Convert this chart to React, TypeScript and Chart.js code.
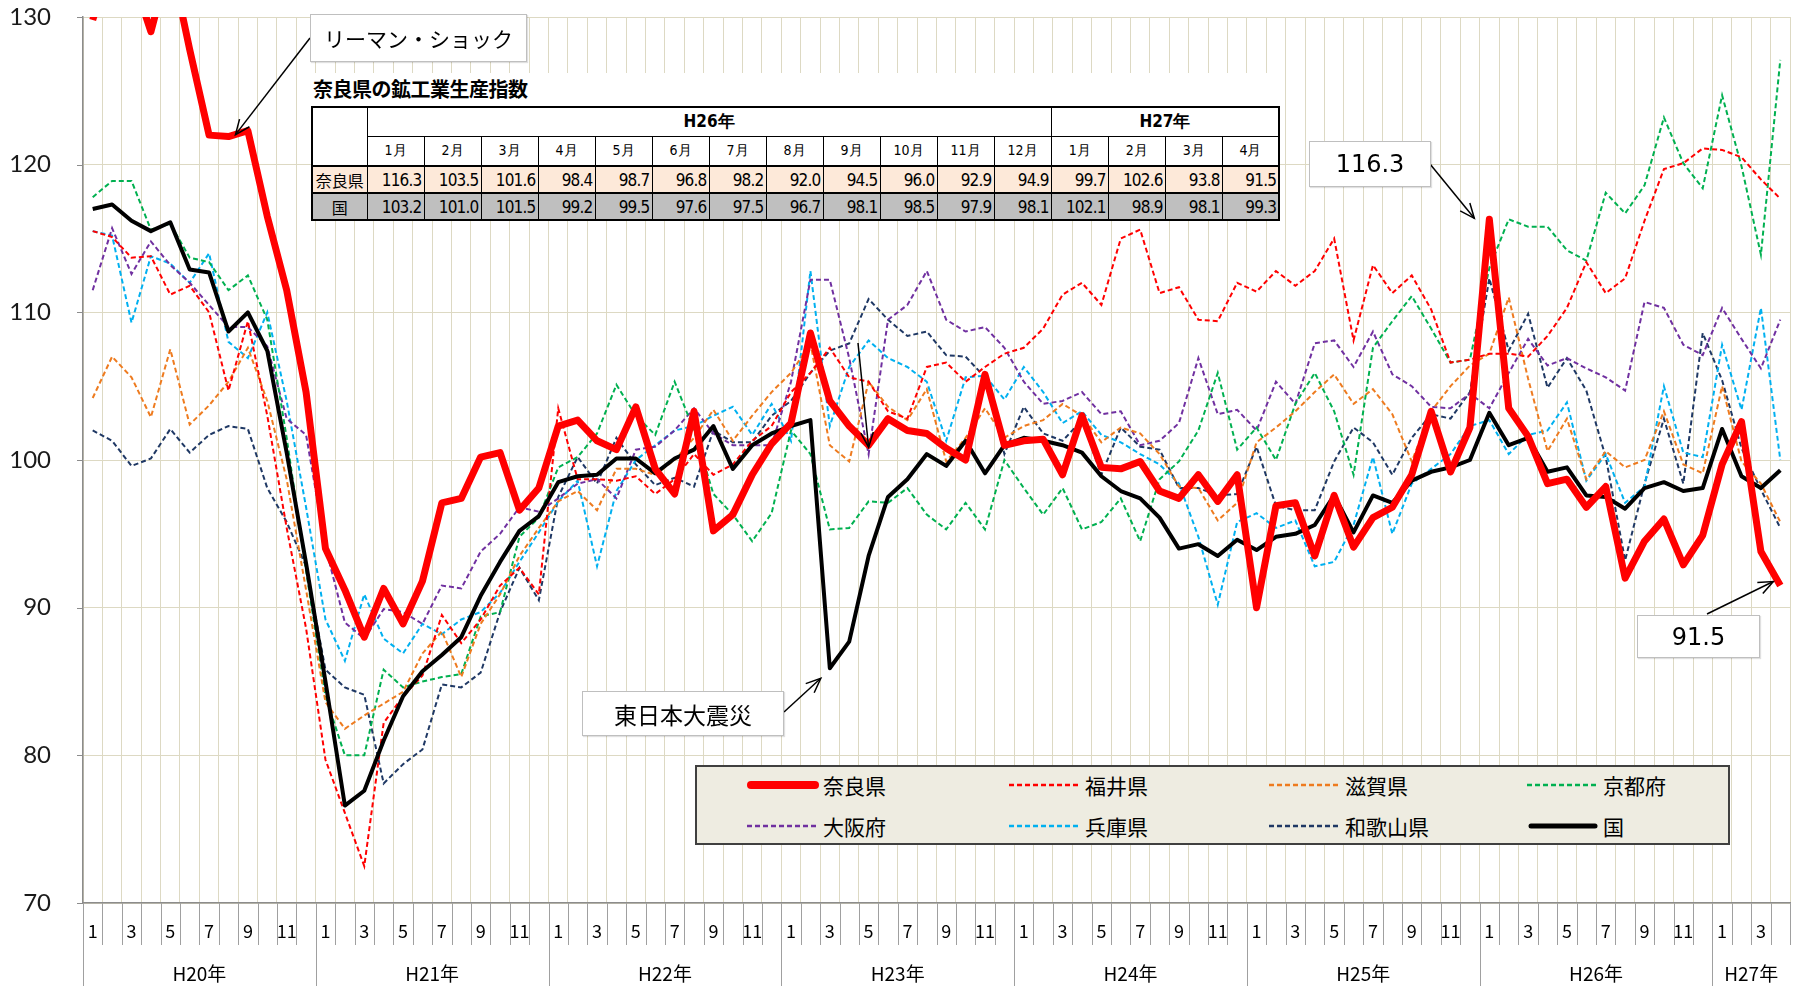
import React, { useEffect, useRef } from 'react';
import { Chart, registerables } from 'chart.js';

Chart.register(...registerables);

// ---------- categories ----------
const yearLabels = ['H20年', 'H21年', 'H22年', 'H23年', 'H24年', 'H25年', 'H26年', 'H27年'];
const monthsInYear = [12, 12, 12, 12, 12, 12, 12, 4];

// ---------- series (2010 = 100) ----------
const nara = [
  129.8, 134.0, 133.0, 129.0, 134.0, 127.8, 122.0, 121.9, 122.3, 116.5, 111.5, 104.6,
  94.0, 91.2, 88.0, 91.3, 88.9, 91.8, 97.1, 97.4, 100.2, 100.5, 96.6, 98.1,
  102.3, 102.7, 101.3, 100.7, 103.6, 99.4, 97.7, 103.3, 95.2, 96.3, 99.0, 101.1,
  102.5, 108.6, 104.0, 102.3, 101.0, 102.8, 102.0, 101.8, 100.8, 100.0, 105.8, 101.0,
  101.3, 101.4, 99.0, 103.0, 99.5, 99.4, 99.9, 97.9, 97.4, 99.0, 97.2, 99.0,
  90.0, 96.9, 97.1, 93.5, 97.6, 94.1, 96.1, 96.8, 99.0, 103.3, 99.2, 102.2,
  116.3, 103.5, 101.6, 98.4, 98.7, 96.8, 98.2, 92.0, 94.5, 96.0, 92.9, 94.9,
  99.7, 102.6, 93.8, 91.5,
];
const fukui = [
  115.5, 115.1, 113.7, 113.8, 111.2, 111.8, 110.0, 104.7, 109.4, 103.0, 95.4, 88.6,
  79.7, 76.1, 72.5, 82.2, 84.0, 85.4, 89.5, 87.6, 89.2, 91.5, 92.7, 90.9,
  103.5, 98.7, 98.7, 98.6, 98.9, 97.7, 98.7, 100.4, 99.0, 99.7, 101.3, 102.3,
  104.6, 105.9, 107.6, 105.6, 105.3, 103.3, 102.8, 106.3, 106.6, 105.3, 106.3, 107.2,
  107.6, 108.9, 111.2, 112.0, 110.5, 115.0, 115.6, 111.3, 111.7, 109.5, 109.4, 112.0,
  111.4, 112.8, 111.8, 112.8, 115.0, 108.1, 113.2, 111.3, 112.5, 110.2, 106.6, 106.8,
  107.2, 107.2, 107.0, 108.4, 110.3, 113.4, 111.3, 112.3, 116.2, 119.7, 120.1, 121.1,
  121.0, 120.5, 119.0, 117.7,
];
const shiga = [
  104.2, 107.0, 105.6, 102.9, 107.5, 102.4, 103.7, 105.3, 107.6, 104.0, 98.7, 91.2,
  83.6, 81.8, 82.7, 83.5, 84.3, 86.9, 88.4, 85.3, 88.9, 90.9, 93.5, 95.4,
  97.2, 97.9, 96.6, 99.4, 99.4, 99.0, 100.0, 101.5, 103.4, 101.3, 103.0, 104.6,
  105.9, 107.9, 101.0, 99.9, 105.3, 103.6, 102.7, 104.8, 99.9, 101.5, 103.5, 101.5,
  102.3, 102.7, 103.8, 103.0, 101.2, 102.2, 101.8, 100.4, 98.2, 98.1, 95.9, 97.1,
  101.2, 102.2, 103.3, 104.6, 105.8, 103.8, 104.8, 103.1, 99.9, 103.3, 105.0, 106.4,
  107.2, 111.0, 105.5, 100.6, 102.8, 98.7, 100.6, 99.5, 100.0, 103.3, 99.7, 99.1,
  105.0, 99.9, 98.4, 95.8,
];
const kyoto = [
  117.8, 118.9, 118.9, 115.6, 116.0, 113.7, 113.4, 111.5, 112.5, 109.5, 101.5, 92.5,
  84.0, 80.0, 80.0, 85.8, 84.6, 85.0, 85.3, 85.5, 89.4, 89.7, 94.8, 96.1,
  99.5, 100.2, 101.8, 105.1, 103.0, 101.7, 105.3, 102.0, 97.7, 96.3, 94.5, 96.4,
  102.0, 100.4, 95.3, 95.4, 97.2, 97.1, 98.1, 96.3, 95.3, 97.1, 95.3, 100.0,
  98.1, 96.3, 98.1, 95.3, 95.8, 97.4, 94.5, 98.7, 99.9, 102.0, 105.9, 100.7,
  102.2, 100.0, 103.8, 105.9, 103.3, 99.0, 107.6, 109.4, 111.1, 108.9, 106.6, 106.8,
  113.0, 116.3, 115.8, 115.8, 114.2, 113.5, 118.1, 116.7, 118.6, 123.2, 120.1, 118.4,
  124.7, 119.9, 113.9, 127.1,
];
const osaka = [
  111.5, 115.7, 112.6, 114.8, 113.2, 112.0, 110.5, 109.0, 109.0, 107.7, 102.8, 101.7,
  94.1, 89.0, 87.9, 89.9, 89.7, 88.9, 91.5, 91.3, 93.8, 95.0, 96.8, 96.5,
  97.4, 98.4, 98.7, 97.4, 100.7, 100.9, 102.0, 103.5, 101.8, 101.0, 101.0, 101.0,
  105.3, 112.2, 112.2, 106.9, 100.4, 109.5, 110.5, 112.8, 109.5, 108.7, 109.0, 107.6,
  105.3, 103.8, 104.0, 104.6, 103.1, 103.3, 101.0, 101.3, 102.5, 106.9, 103.1, 103.4,
  102.0, 105.3, 103.8, 107.9, 108.1, 106.3, 108.7, 105.8, 105.0, 103.6, 103.5, 104.5,
  103.5, 105.9, 108.2, 106.4, 106.9, 106.2, 105.6, 104.7, 110.7, 110.3, 107.8, 107.1,
  110.3, 108.2, 106.2, 109.5,
];
const hyogo = [
  115.5, 115.2, 109.3, 113.8, 113.3, 112.0, 114.0, 108.0, 106.9, 110.0, 104.0, 96.8,
  89.2, 86.4, 90.9, 87.9, 86.9, 88.9, 88.2, 89.2, 89.7, 91.0, 93.1, 95.1,
  97.2, 98.6, 92.8, 97.9, 100.0, 101.0, 102.0, 102.3, 103.0, 103.6, 101.7, 103.8,
  101.3, 112.8, 102.3, 106.3, 108.1, 106.9, 106.3, 105.3, 101.3, 105.6, 105.7, 104.1,
  106.3, 104.6, 102.5, 103.3, 101.7, 101.2, 100.4, 99.7, 98.4, 94.8, 90.2, 95.8,
  96.4, 95.4, 95.9, 92.8, 93.1, 95.6, 100.2, 95.0, 98.4, 99.4, 100.4, 102.3,
  102.7, 100.4, 101.7, 102.0, 103.9, 98.6, 100.4, 97.1, 98.2, 105.0, 100.5, 100.2,
  107.8, 103.4, 110.3, 100.0,
];
const wakayama = [
  102.0, 101.3, 99.6, 100.1, 102.1, 100.5, 101.7, 102.3, 102.1, 98.1, 95.8, 92.8,
  85.8, 84.6, 84.1, 78.1, 79.4, 80.4, 84.8, 84.6, 85.6, 89.7, 92.7, 90.5,
  97.5, 100.2, 98.4, 101.5, 99.7, 98.3, 98.8, 98.2, 102.0, 101.2, 101.2, 103.0,
  104.0, 105.9, 107.4, 107.9, 110.9, 109.5, 108.4, 108.7, 107.1, 107.0, 105.6, 100.4,
  103.6, 101.8, 101.3, 102.7, 99.0, 102.2, 100.9, 100.7, 98.1, 98.1, 97.6, 97.7,
  100.9, 96.9, 96.6, 96.6, 99.9, 102.2, 101.2, 99.0, 101.5, 103.1, 102.8, 104.6,
  112.3, 107.4, 109.9, 104.9, 106.9, 104.7, 100.2, 93.2, 98.4, 102.8, 98.4, 108.6,
  105.4, 100.8, 98.0, 95.4,
];
const kuni = [
  117.0, 117.3, 116.2, 115.5, 116.1, 112.9, 112.7, 108.7, 110.0, 107.4, 100.5, 93.0,
  85.0, 76.6, 77.6, 81.0, 84.0, 85.7, 86.8, 88.0, 90.8, 93.1, 95.2, 96.2,
  98.5, 98.9, 99.0, 100.1, 100.1, 99.1, 100.1, 100.7, 102.3, 99.4, 101.0, 101.8,
  102.3, 102.7, 85.9, 87.7, 93.5, 97.5, 98.7, 100.4, 99.6, 101.3, 99.1, 101.0,
  101.5, 101.3, 101.0, 100.5, 98.9, 97.9, 97.4, 96.1, 94.0, 94.3, 93.5, 94.6,
  93.9, 94.8, 95.0, 95.6, 97.6, 95.1, 97.6, 97.1, 98.6, 99.2, 99.5, 100.0,
  103.2, 101.0, 101.5, 99.2, 99.5, 97.6, 97.5, 96.7, 98.1, 98.5, 97.9, 98.1,
  102.1, 98.9, 98.1, 99.3,
];

// ---------- y axis ----------
const yMin = 70;
const yMax = 130;
const yStep = 10;

// ---------- table (last 16 months) ----------
const tableStart = 72;
const tableYears = ['H26年', 'H27年'];
const tableYearMonths = [12, 4];

// ---------- built helpers ----------
const categories: string[] = [];
const monthOf: number[] = [];
const yearStarts: number[] = [];
yearLabels.forEach((y, yi) => {
  yearStarts.push(categories.length);
  for (let m = 1; m <= monthsInYear[yi]; m++) {
    categories.push(`${y}${m}月`);
    monthOf.push(m);
  }
});

type S = { label: string; data: number[]; color: string; width: number; dash: number[] };
const series: S[] = [
  { label: '奈良県', data: nara, color: '#ff0000', width: 7, dash: [] },
  { label: '福井県', data: fukui, color: '#ff0000', width: 2, dash: [5, 3] },
  { label: '滋賀県', data: shiga, color: '#ee7b1f', width: 2, dash: [5, 3] },
  { label: '京都府', data: kyoto, color: '#00b050', width: 2, dash: [5, 3] },
  { label: '大阪府', data: osaka, color: '#7030a0', width: 2, dash: [5, 3] },
  { label: '兵庫県', data: hyogo, color: '#00b0f0', width: 2, dash: [5, 3] },
  { label: '和歌山県', data: wakayama, color: '#1f3864', width: 2, dash: [5, 3] },
  { label: '国', data: kuni, color: '#000000', width: 4, dash: [] },
];
// drawing order: Nara on top, then national, then prefectures
const drawOrder = [0, 7, 1, 2, 3, 4, 5, 6];

type Ann = { from: [number, number]; data: number[]; index: number; dx: number; dy: number };
const arrows: Ann[] = [
  { from: [310, 38], data: nara, index: 7, dx: 7, dy: -2 },
  { from: [1430, 164], data: nara, index: 72, dx: -15, dy: -1 },
  { from: [1707, 614], data: nara, index: 87, dx: -7, dy: -4 },
  { from: [784, 712], data: kuni, index: 38, dx: -9, dy: 10 },
  { from: [858, 343], data: nara, index: 40, dx: 0, dy: 2 },
];

function drawArrow(ctx: CanvasRenderingContext2D, x1: number, y1: number, x2: number, y2: number) {
  const head = 16;
  ctx.beginPath();
  ctx.moveTo(x1, y1);
  ctx.lineTo(x2, y2);
  ctx.stroke();
  const ang = Math.atan2(y2 - y1, x2 - x1);
  const a1 = ang + Math.PI - 0.4;
  const a2 = ang + Math.PI + 0.4;
  ctx.beginPath();
  ctx.moveTo(x2 + head * Math.cos(a1), y2 + head * Math.sin(a1));
  ctx.lineTo(x2, y2);
  ctx.lineTo(x2 + head * Math.cos(a2), y2 + head * Math.sin(a2));
  ctx.stroke();
}

const customAxis = {
  id: 'customAxis',
  afterDraw(chart: any) {
    const { ctx, chartArea: a, scales } = chart;
    const xs = scales.x;
    const ys = scales.y;
    const n = categories.length;
    const w = (a.right - a.left) / n;
    ctx.save();
    ctx.strokeStyle = '#a0a0a0';
    ctx.lineWidth = 1;
    for (let i = 0; i <= n; i++) {
      const x = Math.round(a.left + i * w) + 0.5;
      const long = yearStarts.includes(i);
      ctx.beginPath();
      ctx.moveTo(x, a.bottom);
      ctx.lineTo(x, long ? chart.height : a.bottom + 42);
      ctx.stroke();
    }
    // small y tick marks
    ctx.strokeStyle = '#8c8c8c';
    ys.ticks.forEach((t: any) => {
      const y = Math.round(ys.getPixelForValue(t.value)) + 0.5;
      ctx.beginPath();
      ctx.moveTo(a.left - 6, y);
      ctx.lineTo(a.left, y);
      ctx.stroke();
    });
    ctx.fillStyle = '#000';
    ctx.textAlign = 'center';
    ctx.textBaseline = 'middle';
    ctx.font = '18px "Noto Sans CJK JP"';
    for (let i = 0; i < n; i++) {
      if (monthOf[i] % 2 === 1) ctx.fillText(String(monthOf[i]), xs.getPixelForValue(i), a.bottom + 28);
    }
    ctx.font = '19px "Noto Sans CJK JP"';
    yearLabels.forEach((y, yi) => {
      const s = yearStarts[yi];
      const e = s + monthsInYear[yi] - 1;
      const cx = (xs.getPixelForValue(s) + xs.getPixelForValue(e)) / 2;
      ctx.fillText(y, cx, a.bottom + 71);
    });
    // annotation arrows
    ctx.strokeStyle = '#000';
    ctx.lineWidth = 1.5;
    arrows.forEach((ar) => {
      const tx = xs.getPixelForValue(ar.index) + ar.dx;
      const ty = ys.getPixelForValue(ar.data[ar.index]) + ar.dy;
      drawArrow(ctx, ar.from[0], ar.from[1], tx, ty);
    });
    ctx.restore();
  },
};

const boxStyle = (l: number, t: number, w: number, h: number, fs: number, family: string): React.CSSProperties => ({
  position: 'absolute',
  left: l,
  top: t,
  width: w,
  height: h,
  boxSizing: 'border-box',
  background: '#fff',
  border: '1px solid #bfbfbf',
  display: 'flex',
  alignItems: 'center',
  justifyContent: 'center',
  font: `${fs}px ${family}`,
  color: '#000',
  boxShadow: '1px 1px 1px rgba(0,0,0,0.12)',
});

const legendColX = [49, 311, 571, 829];
const legendRowY = [18, 59];

export default function App() {
  const ref = useRef<HTMLCanvasElement>(null);
  useEffect(() => {
    const datasets = drawOrder.map((k) => {
      const s = series[k];
      return {
        label: s.label,
        data: s.data,
        borderColor: s.color,
        backgroundColor: s.color,
        borderWidth: s.width,
        borderDash: s.dash,
        pointRadius: 0,
        pointHoverRadius: 0,
        tension: 0,
        fill: false,
        borderJoinStyle: s.width > 3 ? ('round' as const) : ('miter' as const),
        borderCapStyle: 'butt' as const,
      };
    });
    const chart = new Chart(ref.current as HTMLCanvasElement, {
      type: 'line',
      data: { labels: categories, datasets },
      options: {
        animation: false,
        responsive: false,
        devicePixelRatio: 1,
        events: [],
        layout: { padding: { top: 17, right: 13, bottom: 0, left: 0 } },
        plugins: { legend: { display: false }, tooltip: { enabled: false }, title: { display: false } },
        scales: {
          x: {
            type: 'category',
            offset: true,
            grid: { offset: true, color: '#ddd9c3', lineWidth: 1, drawTicks: false },
            border: { color: '#8c8c8c', width: 1.5 },
            ticks: { display: false },
            afterFit: (sc: any) => {
              sc.height = 83;
            },
          },
          y: {
            min: yMin,
            max: yMax,
            grid: { color: '#ddd9c3', lineWidth: 1, tickLength: 31, tickColor: 'rgba(0,0,0,0)' },
            border: { color: '#8c8c8c', width: 1.5 },
            ticks: { stepSize: yStep, padding: 1, color: '#1a1a1a', font: { family: 'Lato', size: 24, lineHeight: 1.1 } },
            afterFit: (sc: any) => {
              sc.width = 83;
            },
          },
        },
      },
      plugins: [customAxis],
    });
    return () => chart.destroy();
  }, []);

  const numFont = '"DejaVu Sans Condensed", "DejaVu Sans", sans-serif';
  const jp = '"Noto Sans CJK JP", sans-serif';
  const tableNara = nara.slice(tableStart);
  const tableKuni = kuni.slice(tableStart);
  const tableMonths: number[] = [];
  tableYearMonths.forEach((c) => {
    for (let m = 1; m <= c; m++) tableMonths.push(m);
  });
  const thin = '1px solid #000';
  const thick = '2px solid #000';
  const cellBase: React.CSSProperties = { padding: 0, border: thin, overflow: 'hidden', whiteSpace: 'nowrap' };

  return (
    <div style={{ position: 'absolute', left: 0, top: 0, width: 1803, height: 986, background: '#fff', overflow: 'hidden' }}>
      <canvas ref={ref} width={1803} height={986} style={{ position: 'absolute', left: 0, top: 0, display: 'block' }} />

      {/* Lehman shock */}
      <div style={boxStyle(310, 14, 217, 48, 21, jp)}>リーマン・ショック</div>

      {/* title + table */}
      <div style={{ position: 'absolute', left: 311, top: 73, width: 968, height: 146, background: '#fff' }} />
      <div style={{ position: 'absolute', left: 313, top: 76, font: `bold 20px ${jp}`, letterSpacing: -0.5, color: '#000', lineHeight: '26px' }}>
        奈良県の鉱工業生産指数
      </div>
      <table
        style={{
          position: 'absolute',
          left: 311,
          top: 106,
          borderCollapse: 'collapse',
          tableLayout: 'fixed',
          width: 55 + 16 * 57,
          border: thick,
          color: '#000',
        }}
      >
        <colgroup>
          <col style={{ width: 55 }} />
          {tableMonths.map((_, i) => (
            <col key={i} style={{ width: 57 }} />
          ))}
        </colgroup>
        <tbody>
          <tr style={{ height: 29 }}>
            <td rowSpan={2} style={{ ...cellBase, background: '#fff', borderRight: thin }} />
            {tableYears.map((y, k) => (
              <td
                key={y}
                colSpan={tableYearMonths[k]}
                style={{ ...cellBase, textAlign: 'center', font: `bold 17px ${numFont}`, fontStretch: 'condensed', background: '#fff' }}
              >
                {y}
              </td>
            ))}
          </tr>
          <tr style={{ height: 30 }}>
            <>
              {tableMonths.map((m, i) => (
                <td key={i} style={{ ...cellBase, textAlign: 'center', font: `14px ${numFont}`, background: '#fff', borderBottom: thick }}>
                  {m}月
                </td>
              ))}
            </>
          </tr>
          <tr style={{ height: 27, background: '#fde9d9' }}>
            <td style={{ ...cellBase, textAlign: 'center', font: `16px ${jp}`, borderTop: thick, borderBottom: thick }}>奈良県</td>
            {tableNara.map((v, i) => (
              <td
                key={i}
                style={{ ...cellBase, textAlign: 'right', paddingRight: 2, font: `17px ${numFont}`, letterSpacing: -0.8, borderTop: thick, borderBottom: thick }}
              >
                {v.toFixed(1)}
              </td>
            ))}
          </tr>
          <tr style={{ height: 27, background: '#bfbfbf' }}>
            <td style={{ ...cellBase, textAlign: 'center', font: `16px ${jp}`, borderBottom: thick }}>国</td>
            {tableKuni.map((v, i) => (
              <td key={i} style={{ ...cellBase, textAlign: 'right', paddingRight: 2, font: `17px ${numFont}`, letterSpacing: -0.8, borderBottom: thick }}>
                {v.toFixed(1)}
              </td>
            ))}
          </tr>
        </tbody>
      </table>

      {/* value callouts */}
      <div style={boxStyle(1309, 141, 122, 46, 24, '"DejaVu Sans", sans-serif')}>{nara[72].toFixed(1)}</div>
      <div style={boxStyle(1637, 615, 123, 43, 24, '"DejaVu Sans", sans-serif')}>{nara[87].toFixed(1)}</div>
      <div style={boxStyle(582, 691, 202, 45, 23, jp)}>東日本大震災</div>

      {/* legend */}
      <div
        style={{
          position: 'absolute',
          left: 695,
          top: 765,
          width: 1035,
          height: 80,
          boxSizing: 'border-box',
          background: '#eeece1',
          border: '2px solid #404040',
        }}
      >
        {series.map((s, k) => {
          const col = k % 4;
          const row = Math.floor(k / 4);
          const sw = s.width > 3 ? s.width + 1 : 2.5;
          return (
            <div
              key={s.label}
              style={{ position: 'absolute', left: legendColX[col], top: legendRowY[row] - 15, height: 30, display: 'flex', alignItems: 'center' }}
            >
              <svg width={74} height={14} style={{ display: 'block' }}>
                <line
                  x1={s.width > 3 ? 5 : 1}
                  y1={7}
                  x2={s.width > 3 ? 69 : 73}
                  y2={7}
                  stroke={s.color}
                  strokeWidth={sw}
                  strokeLinecap={s.width > 3 ? 'round' : 'butt'}
                  strokeDasharray={s.dash.length ? '5 3' : undefined}
                />
              </svg>
              <span style={{ marginLeft: 3, font: `21px ${jp}`, color: '#000', lineHeight: '30px' }}>{s.label}</span>
            </div>
          );
        })}
      </div>
    </div>
  );
}
